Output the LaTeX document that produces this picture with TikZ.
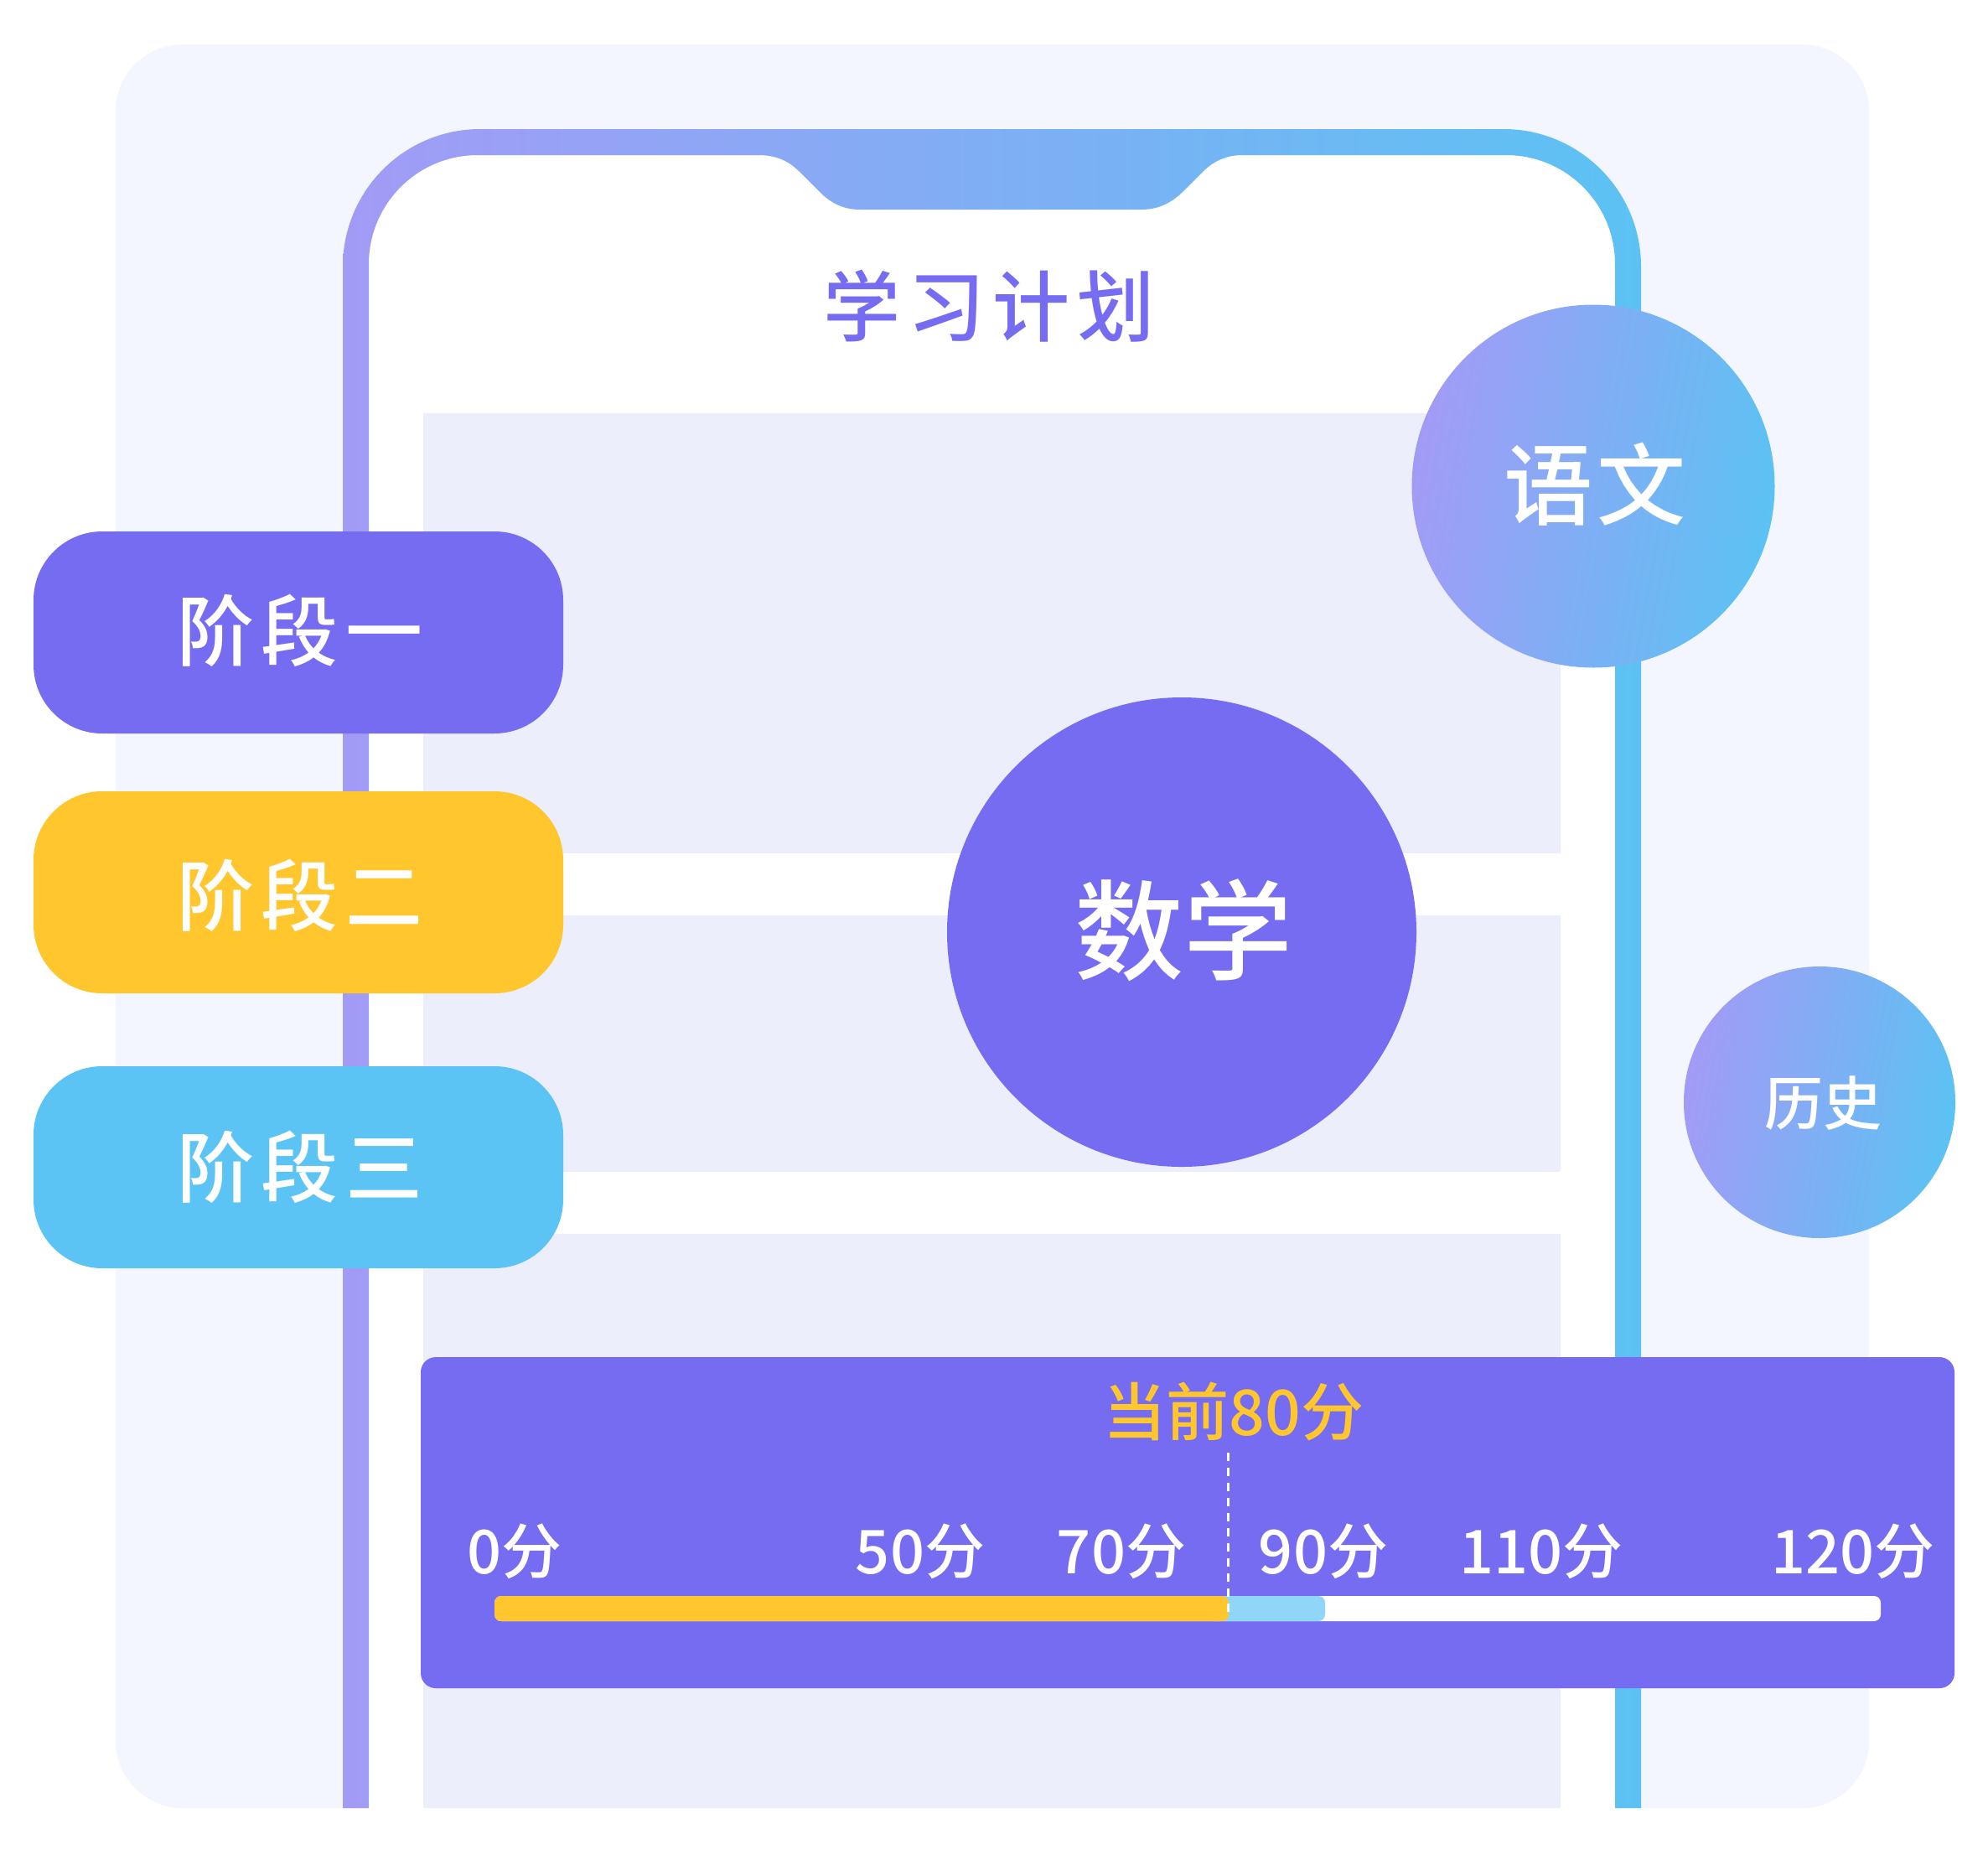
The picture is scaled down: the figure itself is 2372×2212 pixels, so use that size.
\documentclass[tikz,border=0pt]{standalone}
\usepackage{fontspec}
\setmainfont{Noto Sans CJK SC Medium}
\definecolor{violet}{HTML}{766CF2}
\definecolor{gradL}{HTML}{A29BF5}
\definecolor{gradR}{HTML}{5CC2F4}
\definecolor{cardbg}{HTML}{F3F6FE}
\definecolor{panelbg}{HTML}{ECEEFB}
\definecolor{amber}{HTML}{FFC62E}
\definecolor{sky}{HTML}{5CC4F5}
\definecolor{paleblue}{HTML}{8FD6F8}
\newcommand{\fs}[1]{\fontsize{#1}{#1}\selectfont}
\tikzset{
  lab/.style={inner sep=0pt,outer sep=0pt,anchor=center},
  pill/.style={lab,white,font=\fs{92}\addfontfeature{LetterSpace=9}},
  score/.style={lab,white,font=\fs{72}},
  panel/.style={fill=panelbg},
  grad/.style={left color=gradL,right color=gradR,shading angle=80},
}
\begin{document}
\begin{tikzpicture}[x=1pt,y=-1pt]
\useasboundingbox (0,0) rectangle (2372,2212);
\fill[white] (0,0) rectangle (2372,2212);
% card
\fill[cardbg,rounded corners=80pt] (138,53) rectangle (2230,2157);
% phone body
\fill[white] (440,2157) -- (440,315) arc[start angle=180,end angle=270,radius=130] -- (1797,185) arc[start angle=270,end angle=360,radius=130] -- (1927,2157) -- cycle;
% panels
\fill[panel] (505,493) rectangle (1862,1018);
\fill[panel] (505,1092) rectangle (1862,1398);
\fill[panel] (505,1472) rectangle (1862,2157);
% phone frame
\shade[left color=gradL,right color=gradR]
  (409,2157) -- (409,318) arc[start angle=180,end angle=270,radius=164] -- (1794,154) arc[start angle=270,end angle=360,radius=164]
  -- (1958,2157) -- (1927,2157) -- (1927,315) arc[start angle=0,end angle=-90,radius=130] -- (1483,185)
  .. controls (1465,185) and (1450,191) .. (1437,203) -- (1410,230)
  .. controls (1396,243) and (1381,250) .. (1362,250) -- (1026,250)
  .. controls (1007,250) and (992,243) .. (978,229) -- (953,204)
  .. controls (940,191) and (924,185) .. (905,185) -- (570,185)
  arc[start angle=270,end angle=180,radius=130] -- (440,2157) -- cycle;
% title
\node[lab,violet,font=\fs{92}\addfontfeature{LetterSpace=10}] (title) at (1180,365) {学习计划};
% circles
\shade[grad] (1901,580) circle[radius=216.5];
\fill[violet] (1410,1112) circle[radius=280];
\shade[grad] (2171,1315) circle[radius=162];
\node[lab,white,font=\fs{106}\addfontfeature{LetterSpace=4}] (yuwen) at (1903,578) {语文};
\node[lab,white,font=\fs{130}] (shuxue) at (1412,1110) {数学};
\node[lab,white,font=\fs{70}] (lishi) at (2175,1316) {历史};
% pills
\fill[violet,rounded corners=82pt] (40,634) rectangle (672,875);
\fill[amber,rounded corners=82pt] (40,944) rectangle (672,1185);
\fill[sky,rounded corners=82pt] (40,1272) rectangle (672,1513);
\node[pill] (p1) at (358,752) {阶段一};
\node[pill] (p2) at (358,1068) {阶段二};
\node[pill] (p3) at (358,1392) {阶段三};
% score panel
\fill[violet,rounded corners=18pt] (502,1619) rectangle (2332,2014);
\node[lab,amber,font=\fs{75}] (cur) at (1472,1684) {当前80分};
\node[score] (s0) at (614,1851) {0分};
\node[score] (s50) at (1098,1851) {50分};
\node[score] (s70) at (1338,1851) {70分};
\node[score] (s90) at (1579,1851) {90分};
\node[score] (s110) at (1839,1851) {110分};
\node[score] (s120) at (2211,1851) {120分};
% bar
\fill[white,rounded corners=8pt] (590,1904) rectangle (2244,1934);
\fill[paleblue,rounded corners=8pt] (1440,1904) rectangle (1581,1934);
\fill[amber,rounded corners=8pt] (590,1904) rectangle (1466,1934);
\draw[white,line width=3pt,dash pattern=on 10pt off 8pt] (1465,1733) -- (1465,1930);
\end{tikzpicture}
\end{document}
